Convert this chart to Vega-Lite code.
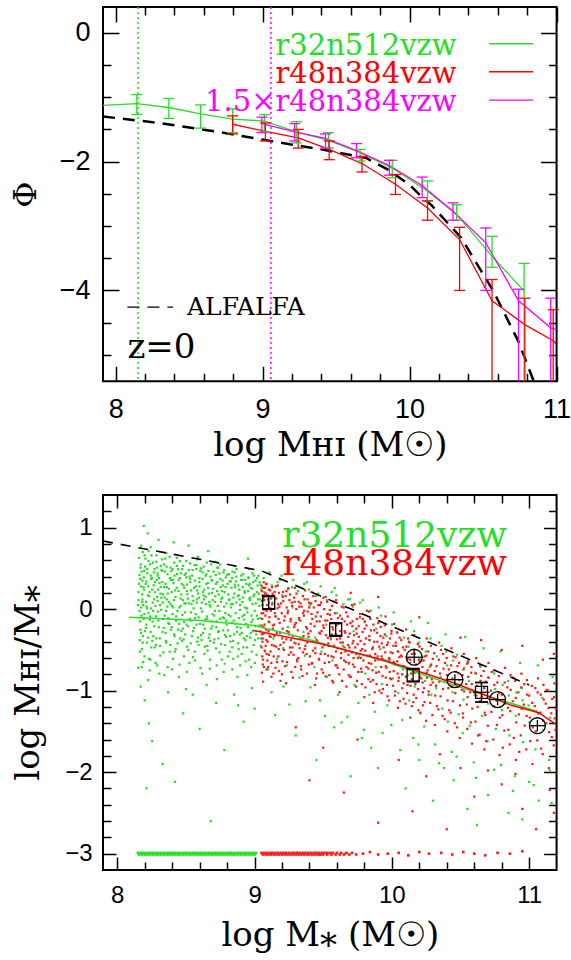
{
"$schema": "https://vega.github.io/schema/vega-lite/v6.json",
"padding": {"left": 8, "top": 5, "right": 0, "bottom": 0},
"background": "white",
"spacing": 29,
"config": {
 "view": {"stroke": "black", "strokeWidth": 2},
 "axis": {"domain": false, "grid": false, "tickColor": "black", "tickWidth": 1.5, "labelColor": "black", "labelFont": "Liberation Sans", "labelOverlap": false, "labelBound": false, "labelFlush": false, "format": "d", "titleColor": "black", "titleFont": "DejaVu Serif", "titleFontWeight": "normal"}
},
"datasets": {
 "top": [
  {"s":"g","x":7.914,"y":-1.128},
  {"s":"g","x":8.144,"y":-1.10,"lo":-1.27,"hi":-0.96},
  {"s":"g","x":8.362,"y":-1.16,"lo":-1.33,"hi":-1.02},
  {"s":"g","x":8.578,"y":-1.26,"lo":-1.48,"hi":-1.12},
  {"s":"g","x":8.796,"y":-1.34,"lo":-1.55,"hi":-1.18},
  {"s":"g","x":9.012,"y":-1.37,"lo":-1.54,"hi":-1.27},
  {"s":"g","x":9.230,"y":-1.54,"lo":-1.71,"hi":-1.38},
  {"s":"g","x":9.448,"y":-1.67,"lo":-1.79,"hi":-1.55},
  {"s":"g","x":9.663,"y":-1.86,"lo":-1.99,"hi":-1.81},
  {"s":"g","x":9.882,"y":-2.10,"lo":-2.25,"hi":-1.98},
  {"s":"g","x":10.122,"y":-2.46,"lo":-2.61,"hi":-2.30},
  {"s":"g","x":10.320,"y":-2.82,"lo":-2.91,"hi":-2.67},
  {"s":"g","x":10.561,"y":-3.47,"lo":-3.64,"hi":-3.16},
  {"s":"g","x":10.779,"y":-4.01,"lo":-6,"hi":-3.58},
  {"s":"r","x":8.796,"y":-1.42,"lo":-1.57,"hi":-1.29},
  {"s":"r","x":9.019,"y":-1.53,"lo":-1.68,"hi":-1.40},
  {"s":"r","x":9.242,"y":-1.63,"lo":-1.79,"hi":-1.50},
  {"s":"r","x":9.453,"y":-1.81,"lo":-1.97,"hi":-1.68},
  {"s":"r","x":9.676,"y":-2.03,"lo":-2.16,"hi":-1.92},
  {"s":"r","x":9.904,"y":-2.35,"lo":-2.51,"hi":-2.20},
  {"s":"r","x":10.122,"y":-2.72,"lo":-2.91,"hi":-2.61},
  {"s":"r","x":10.340,"y":-3.21,"lo":-4.00,"hi":-3.02},
  {"s":"r","x":10.561,"y":-4.16,"lo":-6,"hi":-3.83},
  {"s":"r","x":10.784,"y":-4.53,"lo":-6,"hi":-4.12},
  {"s":"r","x":10.977,"y":-4.78,"lo":-6,"hi":-4.30},
  {"s":"r","x":11.0,"y":-4.84},
  {"s":"m","x":8.995,"y":-1.41,"lo":-1.55,"hi":-1.31},
  {"s":"m","x":9.218,"y":-1.54,"lo":-1.68,"hi":-1.41},
  {"s":"m","x":9.428,"y":-1.64,"lo":-1.79,"hi":-1.57},
  {"s":"m","x":9.639,"y":-1.83,"lo":-1.94,"hi":-1.72},
  {"s":"m","x":9.862,"y":-2.06,"lo":-2.21,"hi":-1.98},
  {"s":"m","x":10.085,"y":-2.37,"lo":-2.56,"hi":-2.24},
  {"s":"m","x":10.295,"y":-2.77,"lo":-2.91,"hi":-2.64},
  {"s":"m","x":10.518,"y":-3.26,"lo":-4.00,"hi":-3.03},
  {"s":"m","x":10.741,"y":-4.16,"lo":-6,"hi":-3.98},
  {"s":"m","x":10.960,"y":-4.58,"lo":-6,"hi":-4.12},
  {"s":"m","x":11.0,"y":-4.61}
 ],
 "alfa": [
  {"x":7.914,"y":-1.30},{"x":8.3,"y":-1.40},{"x":8.7,"y":-1.54},{"x":9.056,"y":-1.68},{"x":9.4,"y":-1.81},{"x":9.7,"y":-1.94},{"x":9.85,"y":-2.12},{"x":10.0,"y":-2.36},{"x":10.07,"y":-2.52},{"x":10.15,"y":-2.68},{"x":10.35,"y":-3.18},{"x":10.57,"y":-4.01},{"x":10.74,"y":-4.79},{"x":10.86,"y":-5.5}
 ],
 "vl": [{"s":"g","x":8.152},{"s":"m","x":9.056}],
 "tleg": [
  {"s":"g","x":10.54,"x2":10.84,"y":-0.17,"tx":10.32,"ty":-0.346,"t":"r32n512vzw"},
  {"s":"r","x":10.54,"x2":10.84,"y":-0.605,"tx":10.32,"ty":-0.776,"t":"r48n384vzw"},
  {"s":"m","x":10.54,"x2":10.84,"y":-1.045,"tx":10.32,"ty":-1.217,"t":"1.5×r48n384vzw"}
 ],
 "aleg": [{"x":8.08,"x2":8.39,"y":-4.26,"tx":8.486,"t":"ALFALFA"}],
 "zlab": [{"x":8.08,"y":-5.05,"t":"z=0"}],
 "gs": [
  {"x":8.161,"y":0.42},{"x":8.155,"y":0.11},{"x":8.168,"y":-0.25},{"x":8.158,"y":0.63},{"x":8.165,"y":-0.52},
  {"x":8.172,"y":0.28},{"x":8.176,"y":-0.08},{"x":8.169,"y":0.51},{"x":8.178,"y":-0.71},{"x":8.174,"y":0.02},
  {"x":8.183,"y":0.35},{"x":8.187,"y":-0.33},{"x":8.181,"y":0.18},{"x":8.185,"y":0.7},
  {"x":8.192,"y":-0.12},{"x":8.196,"y":0.47},{"x":8.189,"y":0.05},{"x":8.198,"y":-0.58},{"x":8.194,"y":0.24},
  {"x":8.207,"y":0.31},{"x":8.213,"y":-0.19},{"x":8.205,"y":0.62},{"x":8.216,"y":-0.41},{"x":8.209,"y":0.09},
  {"x":8.222,"y":0.17},{"x":8.227,"y":-0.05},{"x":8.219,"y":0.44},{"x":8.225,"y":-0.87},{"x":8.221,"y":0.93},
  {"x":8.238,"y":0.55},{"x":8.243,"y":-0.28},{"x":8.235,"y":0.21},{"x":8.246,"y":0.01},{"x":8.241,"y":-0.62},
  {"x":8.252,"y":0.38},{"x":8.257,"y":-0.15},{"x":8.249,"y":0.66},{"x":8.255,"y":-0.39},
  {"x":8.268,"y":0.12},{"x":8.273,"y":-0.47},{"x":8.265,"y":0.29},{"x":8.271,"y":0.49},
  {"x":8.282,"y":-0.09},{"x":8.287,"y":0.36},{"x":8.279,"y":-0.66},{"x":8.285,"y":0.58},{"x":8.29,"y":0.15},
  {"x":8.298,"y":0.24},{"x":8.303,"y":-0.22},{"x":8.295,"y":0.41},{"x":8.306,"y":-0.79},
  {"x":8.312,"y":0.05},{"x":8.317,"y":0.53},{"x":8.309,"y":-0.36},{"x":8.315,"y":0.19},
  {"x":8.328,"y":0.33},{"x":8.333,"y":-0.12},{"x":8.325,"y":0.61},{"x":8.336,"y":-0.53},{"x":8.331,"y":0.08},
  {"x":8.347,"y":0.46},{"x":8.352,"y":-0.29},{"x":8.344,"y":0.14},{"x":8.355,"y":-0.02},
  {"x":8.362,"y":0.27},{"x":8.367,"y":-0.71},{"x":8.359,"y":0.52},{"x":8.365,"y":0.03},
  {"x":8.378,"y":-0.18},{"x":8.383,"y":0.38},{"x":8.375,"y":0.09},{"x":8.386,"y":-0.44},{"x":8.381,"y":0.64},
  {"x":8.397,"y":0.21},{"x":8.402,"y":-0.06},{"x":8.394,"y":0.47},{"x":8.405,"y":-0.61},
  {"x":8.412,"y":0.11},{"x":8.417,"y":-0.33},{"x":8.409,"y":0.32},{"x":8.415,"y":0.57},
  {"x":8.428,"y":-0.14},{"x":8.433,"y":0.26},{"x":8.425,"y":-0.49},{"x":8.436,"y":0.43},
  {"x":8.447,"y":0.36},{"x":8.452,"y":0.02},{"x":8.444,"y":-0.25},{"x":8.455,"y":0.59},{"x":8.449,"y":-0.83},
  {"x":8.466,"y":0.18},{"x":8.471,"y":-0.39},{"x":8.463,"y":0.44},{"x":8.474,"y":-0.07},
  {"x":8.482,"y":0.29},{"x":8.487,"y":-0.16},{"x":8.479,"y":0.53},{"x":8.485,"y":-0.58},
  {"x":8.498,"y":0.07},{"x":8.503,"y":0.39},{"x":8.495,"y":-0.31},{"x":8.506,"y":0.22},
  {"x":8.517,"y":-0.21},{"x":8.522,"y":0.48},{"x":8.514,"y":0.13},{"x":8.525,"y":-0.66},
  {"x":8.532,"y":0.33},{"x":8.537,"y":-0.04},{"x":8.529,"y":0.56},{"x":8.535,"y":-0.42},
  {"x":8.548,"y":0.16},{"x":8.553,"y":-0.27},{"x":8.545,"y":0.41},{"x":8.556,"y":0.01},
  {"x":8.567,"y":-0.11},{"x":8.572,"y":0.28},{"x":8.564,"y":-0.52},{"x":8.575,"y":0.49},
  {"x":8.582,"y":0.23},{"x":8.587,"y":-0.35},{"x":8.579,"y":0.08},{"x":8.585,"y":0.61},
  {"x":8.598,"y":0.38},{"x":8.603,"y":-0.18},{"x":8.595,"y":0.14},{"x":8.606,"y":-0.72},
  {"x":8.617,"y":-0.03},{"x":8.622,"y":0.45},{"x":8.614,"y":-0.38},{"x":8.625,"y":0.21},
  {"x":8.632,"y":0.12},{"x":8.637,"y":-0.24},{"x":8.629,"y":0.52},{"x":8.635,"y":-0.55},
  {"x":8.648,"y":0.31},{"x":8.653,"y":-0.09},{"x":8.645,"y":0.06},{"x":8.656,"y":-0.45},
  {"x":8.667,"y":0.19},{"x":8.672,"y":-0.31},{"x":8.664,"y":0.47},{"x":8.675,"y":-0.62},
  {"x":8.682,"y":-0.15},{"x":8.687,"y":0.36},{"x":8.679,"y":0.03},{"x":8.685,"y":0.55},
  {"x":8.698,"y":0.25},{"x":8.703,"y":-0.41},{"x":8.695,"y":0.11},{"x":8.706,"y":-0.08},
  {"x":8.717,"y":0.42},{"x":8.722,"y":-0.22},{"x":8.714,"y":0.16},{"x":8.725,"y":-0.69},
  {"x":8.732,"y":0.04},{"x":8.737,"y":-0.36},{"x":8.729,"y":0.33},{"x":8.735,"y":0.51},
  {"x":8.748,"y":-0.12},{"x":8.753,"y":0.27},{"x":8.745,"y":-0.53},{"x":8.756,"y":0.09},
  {"x":8.767,"y":0.35},{"x":8.772,"y":-0.26},{"x":8.764,"y":0.14},{"x":8.775,"y":-0.77},
  {"x":8.782,"y":0.21},{"x":8.787,"y":-0.05},{"x":8.779,"y":0.48},{"x":8.785,"y":-0.44},
  {"x":8.798,"y":-0.19},{"x":8.803,"y":0.31},{"x":8.795,"y":0.07},{"x":8.806,"y":-0.58},
  {"x":8.817,"y":0.12},{"x":8.822,"y":-0.33},{"x":8.814,"y":0.43},{"x":8.825,"y":-0.09},
  {"x":8.832,"y":0.26},{"x":8.837,"y":-0.47},{"x":8.829,"y":0.02},{"x":8.835,"y":0.38},
  {"x":8.848,"y":-0.14},{"x":8.853,"y":0.19},{"x":8.845,"y":-0.61},{"x":8.856,"y":0.45},
  {"x":8.867,"y":0.08},{"x":8.872,"y":-0.28},{"x":8.864,"y":0.34},{"x":8.875,"y":-0.83},
  {"x":8.882,"y":0.29},{"x":8.887,"y":-0.11},{"x":8.879,"y":-0.42},{"x":8.885,"y":0.17},
  {"x":8.898,"y":-0.23},{"x":8.903,"y":0.41},{"x":8.895,"y":0.05},{"x":8.906,"y":-0.55},
  {"x":8.917,"y":0.14},{"x":8.922,"y":-0.36},{"x":8.914,"y":0.27},{"x":8.925,"y":-0.07},
  {"x":8.932,"y":0.36},{"x":8.937,"y":-0.18},{"x":8.929,"y":0.02},{"x":8.935,"y":-0.64},
  {"x":8.948,"y":-0.04},{"x":8.953,"y":0.22},{"x":8.945,"y":-0.47},{"x":8.956,"y":0.39},
  {"x":8.967,"y":0.11},{"x":8.972,"y":-0.29},{"x":8.964,"y":0.31},{"x":8.975,"y":-0.71},
  {"x":8.982,"y":0.25},{"x":8.987,"y":-0.13},{"x":8.979,"y":-0.52},{"x":8.985,"y":0.06},
  {"x":8.998,"y":0.18},{"x":9.003,"y":-0.38},{"x":8.995,"y":0.41},{"x":9.006,"y":-0.21},
  {"x":9.017,"y":-0.08},{"x":9.022,"y":0.29},{"x":9.014,"y":-0.56},{"x":9.025,"y":0.12},
  {"x":9.037,"y":0.33},{"x":9.042,"y":-0.27},{"x":9.034,"y":0.04},{"x":9.045,"y":-0.45},
  {"x":8.193,"y":1.02},{"x":8.301,"y":0.85},{"x":8.519,"y":0.78},{"x":8.411,"y":0.82},{"x":8.951,"y":0.62},{"x":8.243,"y":0.76},{"x":8.662,"y":0.71},
  {"x":8.2,"y":-1.12},{"x":8.23,"y":-1.4},{"x":8.212,"y":-2.2},{"x":8.253,"y":-1.62},{"x":8.33,"y":-1.9},{"x":8.42,"y":-2.12},{"x":8.48,"y":-1.28},{"x":8.55,"y":-1.05},{"x":8.6,"y":-1.47},{"x":8.68,"y":-2.6},{"x":8.72,"y":-1.15},{"x":8.78,"y":-1.73},{"x":8.85,"y":-1.05},{"x":8.92,"y":-1.38},{"x":8.98,"y":-0.97},{"x":9.0,"y":-1.22},{"x":8.17,"y":-0.95},{"x":8.37,"y":-1.02},{"x":8.5,"y":-0.98},{"x":8.65,"y":-0.93},{"x":8.88,"y":-1.18},
  {"x":8.151,"y":0.05},{"x":8.163,"y":-0.38},{"x":8.157,"y":0.31},{"x":8.171,"y":0.55},{"x":8.166,"y":-0.15},{"x":8.184,"y":0.12},{"x":8.179,"y":-0.49},{"x":8.193,"y":0.39},{"x":8.201,"y":-0.27},{"x":8.199,"y":0.66},
  {"x":8.214,"y":0.03},{"x":8.226,"y":0.28},{"x":8.231,"y":-0.61},{"x":8.218,"y":0.49},{"x":8.239,"y":-0.09},{"x":8.247,"y":0.37},{"x":8.258,"y":0.08},{"x":8.262,"y":-0.33},{"x":8.259,"y":0.57},{"x":8.276,"y":0.21},
  {"x":8.281,"y":-0.44},{"x":8.293,"y":0.44},{"x":8.296,"y":-0.03},{"x":8.307,"y":0.32},{"x":8.313,"y":-0.57},{"x":8.321,"y":0.14},{"x":8.322,"y":0.48},{"x":8.338,"y":-0.23},{"x":8.341,"y":0.27},{"x":8.349,"y":0.62},
  {"x":8.356,"y":-0.41},{"x":8.368,"y":0.19},{"x":8.371,"y":-0.11},{"x":8.388,"y":0.51},{"x":8.391,"y":-0.25},{"x":8.399,"y":0.04},{"x":8.407,"y":0.36},{"x":8.419,"y":-0.52},{"x":8.421,"y":0.23},{"x":8.438,"y":-0.02},
  {"x":8.442,"y":0.49},{"x":8.457,"y":-0.36},{"x":8.461,"y":0.13},{"x":8.469,"y":0.31},{"x":8.477,"y":-0.24},{"x":8.489,"y":0.07},{"x":8.491,"y":0.42},{"x":8.508,"y":-0.46},{"x":8.511,"y":0.18},{"x":8.527,"y":-0.12},
  {"x":8.531,"y":0.37},{"x":8.541,"y":0.06},{"x":8.551,"y":-0.59},{"x":8.559,"y":0.26},{"x":8.562,"y":0.54},{"x":8.577,"y":-0.19},{"x":8.581,"y":0.12},{"x":8.592,"y":-0.44},{"x":8.597,"y":0.33},{"x":8.609,"y":0.01},
  {"x":8.611,"y":0.5},{"x":8.624,"y":-0.29},{"x":8.628,"y":0.17},{"x":8.641,"y":-0.13},{"x":8.643,"y":0.41},{"x":8.658,"y":-0.51},{"x":8.661,"y":0.26},{"x":8.671,"y":0.09},{"x":8.677,"y":-0.39},{"x":8.691,"y":0.35},
  {"x":8.693,"y":-0.21},{"x":8.709,"y":0.58},{"x":8.711,"y":-0.02},{"x":8.719,"y":-0.48},{"x":8.727,"y":0.22},{"x":8.741,"y":-0.27},{"x":8.743,"y":0.44},{"x":8.759,"y":0.13},{"x":8.761,"y":-0.62},{"x":8.769,"y":0.29},
  {"x":8.777,"y":-0.11},{"x":8.791,"y":0.39},{"x":8.793,"y":-0.34},{"x":8.809,"y":0.18},{"x":8.811,"y":-0.07},{"x":8.819,"y":-0.52},{"x":8.827,"y":0.34},{"x":8.841,"y":0.06},{"x":8.843,"y":-0.39},{"x":8.859,"y":0.27},
  {"x":8.861,"y":-0.18},{"x":8.869,"y":0.49},{"x":8.877,"y":-0.58},{"x":8.891,"y":0.12},{"x":8.893,"y":-0.31},{"x":8.909,"y":0.36},{"x":8.911,"y":-0.09},{"x":8.919,"y":-0.47},{"x":8.927,"y":0.22},{"x":8.941,"y":0.01},
  {"x":8.943,"y":-0.33},{"x":8.959,"y":0.29},{"x":8.961,"y":-0.62},{"x":8.969,"y":0.14},{"x":8.977,"y":-0.16},{"x":8.991,"y":0.33},{"x":8.993,"y":-0.44},{"x":9.009,"y":0.07},{"x":9.011,"y":-0.27},{"x":9.019,"y":0.38},
  {"x":9.027,"y":-0.36},{"x":9.031,"y":0.19},{"x":9.041,"y":-0.11},{"x":9.047,"y":0.24},{"x":8.153,"y":-0.72},{"x":8.188,"y":-0.65},{"x":8.236,"y":-0.75},{"x":8.291,"y":-0.69},{"x":8.343,"y":-0.81},{"x":8.398,"y":-0.74},
  {"x":8.453,"y":-0.68},{"x":8.507,"y":-0.77},{"x":8.566,"y":-0.63},{"x":8.618,"y":-0.79},{"x":8.674,"y":-0.73},{"x":8.726,"y":-0.86},{"x":8.783,"y":-0.67},{"x":8.838,"y":-0.74},{"x":8.894,"y":-0.69},{"x":8.947,"y":-0.81},
  {"x":9.002,"y":-0.66},{"x":8.174,"y":0.78},{"x":8.229,"y":0.71},{"x":8.286,"y":0.66},{"x":8.357,"y":0.69},{"x":8.433,"y":0.63},{"x":8.502,"y":0.59},{"x":8.587,"y":0.64},{"x":8.652,"y":0.57},{"x":8.747,"y":0.55},{"x":8.852,"y":0.53},{"x":8.958,"y":0.49},
  {"x":9.071,"y":0.21},{"x":9.078,"y":-0.52},{"x":9.066,"y":0.38},
  {"x":9.102,"y":-0.15},{"x":9.108,"y":0.45},{"x":9.097,"y":-0.74},
  {"x":9.131,"y":0.08},{"x":9.137,"y":-0.36},{"x":9.126,"y":0.29},
  {"x":9.162,"y":-0.61},{"x":9.168,"y":0.33},{"x":9.157,"y":-0.09},
  {"x":9.202,"y":0.17},{"x":9.208,"y":-0.48},{"x":9.197,"y":0.41},{"x":9.211,"y":-0.95},
  {"x":9.242,"y":-0.22},{"x":9.247,"y":0.26},{"x":9.236,"y":-0.69},
  {"x":9.282,"y":0.36},{"x":9.287,"y":-0.41},{"x":9.276,"y":0.02},
  {"x":9.322,"y":-0.13},{"x":9.327,"y":-0.84},{"x":9.316,"y":0.22},
  {"x":9.362,"y":0.31},{"x":9.367,"y":-0.57},{"x":9.356,"y":-0.28},
  {"x":9.402,"y":0.05},{"x":9.407,"y":-0.96},{"x":9.396,"y":0.24},
  {"x":9.442,"y":-0.35},{"x":9.447,"y":0.16},{"x":9.436,"y":-0.71},
  {"x":9.482,"y":0.28},{"x":9.487,"y":-0.52},{"x":9.476,"y":-1.12},
  {"x":9.522,"y":-0.19},{"x":9.527,"y":0.11},{"x":9.516,"y":-0.82},
  {"x":9.562,"y":0.21},{"x":9.567,"y":-0.63},{"x":9.556,"y":-0.34},
  {"x":9.602,"y":-0.05},{"x":9.607,"y":-1.05},{"x":9.596,"y":0.17},
  {"x":9.642,"y":-0.45},{"x":9.647,"y":0.06},{"x":9.636,"y":-0.88},
  {"x":9.682,"y":0.12},{"x":9.687,"y":-0.67},{"x":9.676,"y":-1.32},
  {"x":9.722,"y":-0.27},{"x":9.727,"y":-0.93},{"x":9.716,"y":0.03},
  {"x":9.762,"y":-0.58},{"x":9.767,"y":0.08},{"x":9.756,"y":-1.15},
  {"x":9.802,"y":-0.16},{"x":9.807,"y":-0.79},{"x":9.796,"y":-1.48},
  {"x":9.842,"y":-0.38},{"x":9.847,"y":-0.02},{"x":9.836,"y":-1.05},
  {"x":9.882,"y":-0.71},{"x":9.887,"y":-0.24},{"x":9.876,"y":-1.26},
  {"x":9.922,"y":-0.08},{"x":9.927,"y":-0.92},{"x":9.916,"y":-0.49},
  {"x":9.962,"y":-0.33},{"x":9.967,"y":-1.18},{"x":9.956,"y":-0.63},
  {"x":10.002,"y":-0.19},{"x":10.007,"y":-0.85},{"x":9.996,"y":-1.42},
  {"x":10.042,"y":-0.52},{"x":10.047,"y":-1.03},{"x":10.036,"y":-0.28},
  {"x":10.082,"y":-0.74},{"x":10.087,"y":-0.35},{"x":10.076,"y":-1.36},
  {"x":10.122,"y":-0.46},{"x":10.127,"y":-1.12},{"x":10.116,"y":-0.81},
  {"x":10.162,"y":-0.27},{"x":10.167,"y":-0.95},{"x":10.156,"y":-1.58},
  {"x":10.202,"y":-0.62},{"x":10.207,"y":-1.28},{"x":10.196,"y":-0.41},
  {"x":10.242,"y":-0.88},{"x":10.247,"y":-0.52},{"x":10.236,"y":-1.44},
  {"x":10.282,"y":-0.36},{"x":10.287,"y":-1.05},{"x":10.276,"y":-0.71},
  {"x":10.322,"y":-0.97},{"x":10.327,"y":-0.58},{"x":10.316,"y":-1.66},
  {"x":10.362,"y":-0.45},{"x":10.367,"y":-1.22},{"x":10.356,"y":-0.83},
  {"x":10.402,"y":-0.69},{"x":10.407,"y":-1.38},{"x":10.396,"y":-0.52},
  {"x":10.442,"y":-1.02},{"x":10.447,"y":-0.63},{"x":10.436,"y":-1.75},
  {"x":10.482,"y":-0.79},{"x":10.487,"y":-1.29},{"x":10.476,"y":-0.56},
  {"x":10.522,"y":-1.11},{"x":10.527,"y":-0.72},{"x":10.516,"y":-1.52},
  {"x":10.562,"y":-0.88},{"x":10.567,"y":-1.43},{"x":10.556,"y":-0.66},
  {"x":10.602,"y":-1.05},{"x":10.607,"y":-0.78},{"x":10.596,"y":-1.88},
  {"x":10.652,"y":-0.92},{"x":10.657,"y":-1.31},{"x":10.646,"y":-0.71},
  {"x":10.702,"y":-1.16},{"x":10.707,"y":-0.84},{"x":10.696,"y":-1.62},
  {"x":10.752,"y":-0.98},{"x":10.757,"y":-1.47},{"x":10.746,"y":-0.79},
  {"x":10.802,"y":-1.24},{"x":10.807,"y":-0.93},{"x":10.796,"y":-1.91},
  {"x":10.852,"y":-1.06},{"x":10.857,"y":-1.55},{"x":10.846,"y":-0.88},
  {"x":10.902,"y":-1.31},{"x":10.907,"y":-1.02},{"x":10.896,"y":-2.05},
  {"x":10.952,"y":-1.12},{"x":10.957,"y":-1.63},{"x":10.946,"y":-0.97},
  {"x":11.002,"y":-1.39},{"x":10.996,"y":-1.18},
  {"x":11.052,"y":-1.25},{"x":11.046,"y":-1.72},
  {"x":11.102,"y":-1.48},{"x":11.096,"y":-1.09},
  {"x":11.152,"y":-1.33},{"x":11.146,"y":-1.85},
  {"x":9.093,"y":0.31},{"x":9.187,"y":0.36},{"x":9.274,"y":0.27},{"x":9.381,"y":0.33},{"x":9.463,"y":0.19},{"x":9.584,"y":0.26},{"x":9.693,"y":0.12},{"x":9.788,"y":0.11},{"x":9.904,"y":0.02},{"x":10.013,"y":-0.04},{"x":10.138,"y":-0.15},{"x":10.262,"y":-0.17},{"x":10.391,"y":-0.31},{"x":10.534,"y":-0.34},{"x":10.668,"y":-0.48},{"x":10.793,"y":-0.52},{"x":10.934,"y":-0.66},{"x":11.063,"y":-0.69},{"x":11.171,"y":-0.83},
  {"x":9.124,"y":-1.02},{"x":9.253,"y":-1.17},{"x":9.372,"y":-1.13},{"x":9.514,"y":-1.31},{"x":9.633,"y":-1.39},{"x":9.781,"y":-1.58},{"x":9.932,"y":-1.52},{"x":10.061,"y":-1.73},{"x":10.193,"y":-1.66},{"x":10.344,"y":-1.89},{"x":10.472,"y":-1.81},{"x":10.613,"y":-2.07},{"x":10.744,"y":-1.97},{"x":10.882,"y":-2.23},{"x":11.033,"y":-2.16},{"x":11.163,"y":-2.38},
  {"x":9.3,"y":-1.55},{"x":9.45,"y":-1.85},{"x":9.7,"y":-2.05},{"x":9.9,"y":-1.95},{"x":10.1,"y":-2.2},{"x":10.3,"y":-2.35},{"x":10.45,"y":-2.1},{"x":10.55,"y":-2.45},{"x":10.7,"y":-2.28},{"x":10.85,"y":-2.5},{"x":11.0,"y":-2.12},{"x":11.15,"y":-1.98},{"x":10.2,"y":-1.85},{"x":10.62,"y":-2.65},{"x":9.58,"y":-1.45},{"x":11.07,"y":-2.35},{"x":10.95,"y":-2.58},{"x":9.15,"y":-1.3},{"x":9.85,"y":-1.7},{"x":10.38,"y":-1.95},
  {"x":8.154,"y":0.21},{"x":8.162,"y":-0.02},{"x":8.167,"y":0.37},{"x":8.173,"y":-0.29},{"x":8.177,"y":0.46},{"x":8.182,"y":0.09},{"x":8.186,"y":-0.41},{"x":8.191,"y":0.27},{"x":8.197,"y":-0.06},{"x":8.203,"y":0.52},
  {"x":8.208,"y":-0.23},{"x":8.212,"y":0.34},{"x":8.217,"y":0.01},{"x":8.223,"y":-0.35},{"x":8.228,"y":0.59},{"x":8.233,"y":0.16},{"x":8.237,"y":-0.13},{"x":8.244,"y":0.41},{"x":8.248,"y":-0.47},{"x":8.254,"y":0.24},
  {"x":8.261,"y":-0.02},{"x":8.266,"y":0.45},{"x":8.269,"y":-0.21},{"x":8.274,"y":0.33},{"x":8.278,"y":0.04},{"x":8.284,"y":-0.36},{"x":8.289,"y":0.51},{"x":8.294,"y":0.1},{"x":8.299,"y":-0.14},{"x":8.304,"y":0.38},
  {"x":8.311,"y":-0.45},{"x":8.316,"y":0.27},{"x":8.319,"y":-0.01},{"x":8.326,"y":0.47},{"x":8.329,"y":-0.28},{"x":8.334,"y":0.18},{"x":8.339,"y":0.55},{"x":8.345,"y":-0.08},{"x":8.351,"y":0.31},{"x":8.354,"y":-0.39},
  {"x":8.361,"y":0.12},{"x":8.366,"y":0.43},{"x":8.372,"y":-0.17},{"x":8.376,"y":0.25},{"x":8.382,"y":-0.52},{"x":8.387,"y":0.06},{"x":8.392,"y":0.36},{"x":8.396,"y":-0.22},{"x":8.403,"y":0.49},{"x":8.408,"y":0.02},
  {"x":8.414,"y":-0.31},{"x":8.418,"y":0.41},{"x":8.424,"y":0.15},{"x":8.429,"y":-0.09},{"x":8.434,"y":0.53},{"x":8.439,"y":-0.42},{"x":8.446,"y":0.22},{"x":8.451,"y":-0.18},{"x":8.456,"y":0.38},{"x":8.462,"y":0.04},
  {"x":8.467,"y":-0.27},{"x":8.472,"y":0.49},{"x":8.478,"y":0.11},{"x":8.483,"y":-0.37},{"x":8.488,"y":0.26},{"x":8.494,"y":-0.04},{"x":8.499,"y":0.44},{"x":8.505,"y":-0.19},{"x":8.509,"y":0.3},{"x":8.516,"y":-0.5},
  {"x":8.521,"y":0.07},{"x":8.526,"y":0.4},{"x":8.533,"y":-0.14},{"x":8.538,"y":0.23},{"x":8.543,"y":-0.33},{"x":8.549,"y":0.48},{"x":8.554,"y":0.1},{"x":8.558,"y":-0.23},{"x":8.565,"y":0.35},{"x":8.571,"y":-0.06},
  {"x":8.576,"y":0.54},{"x":8.583,"y":-0.4},{"x":8.588,"y":0.19},{"x":8.593,"y":-0.1},{"x":8.599,"y":0.28},{"x":8.604,"y":0.47},{"x":8.61,"y":-0.32},{"x":8.616,"y":0.08},{"x":8.621,"y":0.37},{"x":8.627,"y":-0.19},
  {"x":8.633,"y":0.24},{"x":8.638,"y":-0.46},{"x":8.644,"y":0.15},{"x":8.649,"y":0.43},{"x":8.655,"y":-0.12},{"x":8.66,"y":0.32},{"x":8.666,"y":-0.35},{"x":8.673,"y":0.05},{"x":8.678,"y":0.4},{"x":8.684,"y":-0.24},
  {"x":8.689,"y":0.2},{"x":8.694,"y":-0.06},{"x":8.701,"y":0.46},{"x":8.707,"y":-0.37},{"x":8.712,"y":0.09},{"x":8.718,"y":0.31},{"x":8.723,"y":-0.15},{"x":8.728,"y":0.51},{"x":8.734,"y":-0.28},{"x":8.739,"y":0.18},
  {"x":8.744,"y":-0.02},{"x":8.751,"y":0.37},{"x":8.757,"y":-0.43},{"x":8.762,"y":0.22},{"x":8.768,"y":-0.1},{"x":8.773,"y":0.45},{"x":8.778,"y":0.03},{"x":8.784,"y":-0.32},{"x":8.789,"y":0.27},{"x":8.794,"y":-0.14},
  {"x":8.801,"y":0.42},{"x":8.807,"y":-0.26},{"x":8.813,"y":0.11},{"x":8.818,"y":0.34},{"x":8.824,"y":-0.4},{"x":8.828,"y":0.06},{"x":8.834,"y":-0.17},{"x":8.839,"y":0.46},{"x":8.846,"y":0.14},{"x":8.851,"y":-0.31},
  {"x":8.857,"y":0.3},{"x":8.862,"y":-0.05},{"x":8.868,"y":0.4},{"x":8.873,"y":-0.22},{"x":8.878,"y":0.16},{"x":8.884,"y":-0.49},{"x":8.889,"y":0.24},{"x":8.894,"y":-0.01},{"x":8.901,"y":0.36},{"x":8.907,"y":-0.29},
  {"x":8.912,"y":0.09},{"x":8.918,"y":0.43},{"x":8.923,"y":-0.13},{"x":8.928,"y":0.2},{"x":8.934,"y":-0.38},{"x":8.94,"y":0.31},{"x":8.946,"y":0.01},{"x":8.952,"y":-0.22},{"x":8.957,"y":0.38},{"x":8.962,"y":0.13},
  {"x":8.968,"y":-0.35},{"x":8.973,"y":0.26},{"x":8.978,"y":-0.08},{"x":8.984,"y":0.44},{"x":8.989,"y":-0.27},{"x":8.994,"y":0.16},{"x":9.001,"y":-0.02},{"x":9.007,"y":0.35},{"x":9.013,"y":-0.31},{"x":9.018,"y":0.21},
  {"x":9.024,"y":-0.12},{"x":9.029,"y":0.41},{"x":9.035,"y":-0.2},{"x":9.039,"y":0.12},{"x":9.044,"y":0.3},{"x":9.048,"y":-0.36}
 ],
 "gb": [
  {"x":8.15,"y":-2.99},{"x":8.17,"y":-2.99},{"x":8.19,"y":-2.99},{"x":8.21,"y":-2.99},{"x":8.23,"y":-2.99},{"x":8.25,"y":-2.99},{"x":8.27,"y":-2.99},{"x":8.29,"y":-2.99},{"x":8.31,"y":-2.99},{"x":8.33,"y":-2.99},{"x":8.35,"y":-2.99},{"x":8.37,"y":-2.99},{"x":8.39,"y":-2.99},{"x":8.41,"y":-2.99},{"x":8.43,"y":-2.99},{"x":8.45,"y":-2.99},{"x":8.47,"y":-2.99},{"x":8.49,"y":-2.99},{"x":8.51,"y":-2.99},{"x":8.53,"y":-2.99},{"x":8.55,"y":-2.99},{"x":8.57,"y":-2.99},{"x":8.59,"y":-2.99},{"x":8.61,"y":-2.99},{"x":8.63,"y":-2.99},{"x":8.65,"y":-2.99},{"x":8.67,"y":-2.99},{"x":8.69,"y":-2.99},{"x":8.71,"y":-2.99},{"x":8.73,"y":-2.99},{"x":8.75,"y":-2.99},{"x":8.77,"y":-2.99},{"x":8.79,"y":-2.99},{"x":8.81,"y":-2.99},{"x":8.83,"y":-2.99},{"x":8.85,"y":-2.99},{"x":8.87,"y":-2.99},{"x":8.89,"y":-2.99},{"x":8.91,"y":-2.99},{"x":8.93,"y":-2.99},{"x":8.95,"y":-2.99},{"x":8.97,"y":-2.99},{"x":8.99,"y":-2.99},{"x":9.01,"y":-2.99},
  {"x":8.16,"y":-3.01},{"x":8.18,"y":-3.01},{"x":8.2,"y":-3.01},{"x":8.22,"y":-3.01},{"x":8.24,"y":-3.01},{"x":8.26,"y":-3.01},{"x":8.28,"y":-3.01},{"x":8.3,"y":-3.01},{"x":8.32,"y":-3.01},{"x":8.34,"y":-3.01},{"x":8.36,"y":-3.01},{"x":8.38,"y":-3.01},{"x":8.4,"y":-3.01},{"x":8.42,"y":-3.01},{"x":8.44,"y":-3.01},{"x":8.46,"y":-3.01},{"x":8.48,"y":-3.01},{"x":8.5,"y":-3.01},{"x":8.52,"y":-3.01},{"x":8.54,"y":-3.01},{"x":8.56,"y":-3.01},{"x":8.58,"y":-3.01},{"x":8.6,"y":-3.01},{"x":8.62,"y":-3.01},{"x":8.64,"y":-3.01},{"x":8.66,"y":-3.01},{"x":8.68,"y":-3.01},{"x":8.7,"y":-3.01},{"x":8.72,"y":-3.01},{"x":8.74,"y":-3.01},{"x":8.76,"y":-3.01},{"x":8.78,"y":-3.01},{"x":8.8,"y":-3.01},{"x":8.82,"y":-3.01},{"x":8.84,"y":-3.01},{"x":8.86,"y":-3.01},{"x":8.88,"y":-3.01},{"x":8.9,"y":-3.01},{"x":8.92,"y":-3.01},{"x":8.94,"y":-3.01},{"x":8.96,"y":-3.01},{"x":8.98,"y":-3.01},{"x":9.0,"y":-3.01},
  {"x":9.12,"y":-3.0},{"x":9.31,"y":-2.99},{"x":9.47,"y":-3.01},{"x":9.66,"y":-3.0}
 ],
 "rs": [
  {"x":9.052,"y":0.28},{"x":9.055,"y":-0.12},{"x":9.051,"y":-0.47},{"x":9.057,"y":0.05},{"x":9.053,"y":-0.78},{"x":9.058,"y":0.17},{"x":9.054,"y":-0.31},
  {"x":9.063,"y":-0.05},{"x":9.067,"y":0.33},{"x":9.061,"y":-0.62},{"x":9.065,"y":-0.22},{"x":9.069,"y":0.11},{"x":9.062,"y":-0.89},
  {"x":9.082,"y":0.19},{"x":9.086,"y":-0.38},{"x":9.079,"y":-0.08},{"x":9.084,"y":0.31},{"x":9.088,"y":-0.55},
  {"x":9.101,"y":-0.27},{"x":9.105,"y":0.08},{"x":9.098,"y":-0.71},{"x":9.103,"y":0.24},{"x":9.107,"y":-0.16},
  {"x":9.121,"y":0.13},{"x":9.125,"y":-0.44},{"x":9.118,"y":-0.02},{"x":9.123,"y":-0.83},{"x":9.127,"y":0.27},
  {"x":9.142,"y":-0.19},{"x":9.146,"y":0.21},{"x":9.139,"y":-0.58},{"x":9.144,"y":-0.33},
  {"x":9.172,"y":0.06},{"x":9.176,"y":-0.49},{"x":9.169,"y":0.29},{"x":9.174,"y":-0.12},{"x":9.178,"y":-0.76},
  {"x":9.201,"y":-0.36},{"x":9.205,"y":0.15},{"x":9.198,"y":-0.05},{"x":9.203,"y":-0.64},
  {"x":9.232,"y":0.22},{"x":9.236,"y":-0.27},{"x":9.229,"y":-0.91},{"x":9.234,"y":0.02},
  {"x":9.262,"y":-0.15},{"x":9.266,"y":-0.53},{"x":9.259,"y":0.18},{"x":9.264,"y":-0.38},
  {"x":9.292,"y":0.09},{"x":9.296,"y":-0.71},{"x":9.289,"y":-0.22},{"x":9.294,"y":0.26},
  {"x":9.322,"y":-0.43},{"x":9.326,"y":0.03},{"x":9.319,"y":-0.6},{"x":9.324,"y":-0.11},
  {"x":9.352,"y":0.16},{"x":9.356,"y":-0.33},{"x":9.349,"y":-0.82},{"x":9.354,"y":-0.05},
  {"x":9.382,"y":-0.24},{"x":9.386,"y":0.12},{"x":9.379,"y":-0.55},{"x":9.384,"y":-0.41},
  {"x":9.412,"y":0.07},{"x":9.416,"y":-0.67},{"x":9.409,"y":-0.18},{"x":9.414,"y":0.21},
  {"x":9.442,"y":-0.48},{"x":9.446,"y":-0.09},{"x":9.439,"y":-0.93},{"x":9.444,"y":0.1},
  {"x":9.472,"y":-0.29},{"x":9.476,"y":0.05},{"x":9.469,"y":-0.61},{"x":9.474,"y":-0.15},
  {"x":9.502,"y":0.14},{"x":9.506,"y":-0.44},{"x":9.499,"y":-0.78},{"x":9.504,"y":-0.23},
  {"x":9.532,"y":-0.06},{"x":9.536,"y":-0.57},{"x":9.529,"y":0.09},{"x":9.534,"y":-0.35},
  {"x":9.562,"y":-0.31},{"x":9.566,"y":-0.88},{"x":9.559,"y":-0.12},{"x":9.564,"y":0.04},
  {"x":9.592,"y":-0.52},{"x":9.596,"y":-0.2},{"x":9.589,"y":-0.69},{"x":9.594,"y":0.11},
  {"x":9.622,"y":-0.08},{"x":9.626,"y":-0.41},{"x":9.619,"y":-1.02},{"x":9.624,"y":-0.27},
  {"x":9.652,"y":-0.63},{"x":9.656,"y":-0.15},{"x":9.649,"y":0.02},{"x":9.654,"y":-0.47},
  {"x":9.682,"y":-0.34},{"x":9.686,"y":-0.81},{"x":9.679,"y":-0.09},{"x":9.684,"y":-0.56},
  {"x":9.712,"y":-0.21},{"x":9.716,"y":-0.68},{"x":9.709,"y":0.05},{"x":9.714,"y":-0.42},
  {"x":9.742,"y":-0.55},{"x":9.746,"y":-0.12},{"x":9.739,"y":-0.95},{"x":9.744,"y":-0.3},
  {"x":9.772,"y":-0.39},{"x":9.776,"y":-0.73},{"x":9.769,"y":-0.06},{"x":9.774,"y":-0.6},
  {"x":9.802,"y":-0.24},{"x":9.806,"y":-0.51},{"x":9.799,"y":-1.08},{"x":9.804,"y":-0.15},
  {"x":9.832,"y":-0.66},{"x":9.836,"y":-0.33},{"x":9.829,"y":-0.86},{"x":9.834,"y":-0.03},
  {"x":9.862,"y":-0.47},{"x":9.866,"y":-0.19},{"x":9.859,"y":-0.75},{"x":9.864,"y":-1.15},
  {"x":9.892,"y":-0.29},{"x":9.896,"y":-0.58},{"x":9.889,"y":-0.92},{"x":9.894,"y":-0.11},
  {"x":9.922,"y":-0.71},{"x":9.926,"y":-0.42},{"x":9.919,"y":-0.22},{"x":9.924,"y":-1.03},
  {"x":9.952,"y":-0.53},{"x":9.956,"y":-0.84},{"x":9.949,"y":-0.31},{"x":9.954,"y":-0.09},
  {"x":9.982,"y":-0.62},{"x":9.986,"y":-0.36},{"x":9.979,"y":-1.12},{"x":9.984,"y":-0.77},
  {"x":10.012,"y":-0.45},{"x":10.016,"y":-0.18},{"x":10.009,"y":-0.94},{"x":10.014,"y":-0.65},
  {"x":10.042,"y":-0.79},{"x":10.046,"y":-0.52},{"x":10.039,"y":-0.29},{"x":10.044,"y":-1.21},
  {"x":10.072,"y":-0.58},{"x":10.076,"y":-0.97},{"x":10.069,"y":-0.38},{"x":10.074,"y":-0.71},
  {"x":10.102,"y":-0.83},{"x":10.106,"y":-0.46},{"x":10.099,"y":-1.16},{"x":10.104,"y":-0.25},
  {"x":10.132,"y":-0.66},{"x":10.136,"y":-0.94},{"x":10.129,"y":-0.41},{"x":10.134,"y":-1.33},
  {"x":10.162,"y":-0.51},{"x":10.166,"y":-0.78},{"x":10.159,"y":-1.05},{"x":10.164,"y":-0.32},
  {"x":10.192,"y":-0.88},{"x":10.196,"y":-0.62},{"x":10.189,"y":-0.43},{"x":10.194,"y":-1.24},
  {"x":10.222,"y":-0.71},{"x":10.226,"y":-1.02},{"x":10.219,"y":-0.49},{"x":10.224,"y":-0.9},
  {"x":10.252,"y":-0.57},{"x":10.256,"y":-0.84},{"x":10.249,"y":-1.37},{"x":10.254,"y":-0.36},
  {"x":10.282,"y":-0.93},{"x":10.286,"y":-0.68},{"x":10.279,"y":-1.15},{"x":10.284,"y":-0.45},
  {"x":10.312,"y":-0.76},{"x":10.316,"y":-1.06},{"x":10.309,"y":-0.54},{"x":10.314,"y":-1.42},
  {"x":10.342,"y":-0.62},{"x":10.346,"y":-0.89},{"x":10.339,"y":-1.23},{"x":10.344,"y":-0.41},
  {"x":10.372,"y":-0.98},{"x":10.376,"y":-0.73},{"x":10.369,"y":-1.31},{"x":10.374,"y":-0.55},
  {"x":10.402,"y":-0.81},{"x":10.406,"y":-1.12},{"x":10.399,"y":-0.6},{"x":10.404,"y":-1.5},
  {"x":10.432,"y":-0.69},{"x":10.436,"y":-0.95},{"x":10.429,"y":-1.27},{"x":10.434,"y":-0.48},
  {"x":10.462,"y":-1.03},{"x":10.466,"y":-0.77},{"x":10.459,"y":-1.4},{"x":10.464,"y":-0.59},
  {"x":10.492,"y":-0.87},{"x":10.496,"y":-1.18},{"x":10.489,"y":-0.66},{"x":10.494,"y":-1.58},
  {"x":10.522,"y":-0.74},{"x":10.526,"y":-1.01},{"x":10.519,"y":-1.33},{"x":10.524,"y":-0.55},
  {"x":10.552,"y":-1.08},{"x":10.556,"y":-0.83},{"x":10.549,"y":-1.47},{"x":10.554,"y":-0.64},
  {"x":10.582,"y":-0.92},{"x":10.586,"y":-1.22},{"x":10.579,"y":-0.71},{"x":10.584,"y":-1.65},
  {"x":10.612,"y":-0.79},{"x":10.616,"y":-1.06},{"x":10.609,"y":-1.38},{"x":10.614,"y":-0.6},
  {"x":10.642,"y":-1.13},{"x":10.646,"y":-0.88},{"x":10.639,"y":-1.54},{"x":10.644,"y":-0.69},
  {"x":10.672,"y":-0.97},{"x":10.676,"y":-1.27},{"x":10.669,"y":-0.76},{"x":10.674,"y":-1.72},
  {"x":10.702,"y":-0.84},{"x":10.706,"y":-1.1},{"x":10.699,"y":-1.43},{"x":10.704,"y":-0.66},
  {"x":10.742,"y":-1.19},{"x":10.746,"y":-0.93},{"x":10.739,"y":-1.6},{"x":10.744,"y":-0.75},
  {"x":10.782,"y":-1.03},{"x":10.786,"y":-1.33},{"x":10.779,"y":-0.82},{"x":10.784,"y":-1.79},
  {"x":10.822,"y":-0.9},{"x":10.826,"y":-1.16},{"x":10.819,"y":-1.49},{"x":10.824,"y":-0.72},
  {"x":10.862,"y":-1.25},{"x":10.866,"y":-0.99},{"x":10.859,"y":-1.66},{"x":10.864,"y":-0.81},
  {"x":10.902,"y":-1.09},{"x":10.906,"y":-1.39},{"x":10.899,"y":-0.88},{"x":10.904,"y":-1.85},
  {"x":10.942,"y":-0.96},{"x":10.946,"y":-1.22},{"x":10.939,"y":-1.55},{"x":10.944,"y":-0.79},
  {"x":10.982,"y":-1.31},{"x":10.986,"y":-1.05},{"x":10.979,"y":-1.72},{"x":10.984,"y":-0.87},
  {"x":11.022,"y":-1.15},{"x":11.026,"y":-1.45},{"x":11.019,"y":-0.94},{"x":11.024,"y":-1.9},
  {"x":11.062,"y":-1.02},{"x":11.066,"y":-1.28},{"x":11.059,"y":-1.61},{"x":11.064,"y":-0.85},
  {"x":11.102,"y":-1.37},{"x":11.106,"y":-1.11},{"x":11.099,"y":-1.78},{"x":11.104,"y":-0.93},
  {"x":11.142,"y":-1.21},{"x":11.146,"y":-1.51},{"x":11.139,"y":-1.0},{"x":11.144,"y":-1.95},
  {"x":11.182,"y":-1.08},{"x":11.186,"y":-1.34},{"x":11.179,"y":-1.67},{"x":11.184,"y":-0.91},
  {"x":9.051,"y":-0.05},{"x":9.053,"y":0.22},{"x":9.056,"y":-0.58},{"x":9.059,"y":-0.36},{"x":9.064,"y":0.14},{"x":9.068,"y":-0.71},{"x":9.073,"y":-0.19},{"x":9.077,"y":0.26},{"x":9.081,"y":-0.45},{"x":9.089,"y":-0.02},
  {"x":9.093,"y":-0.63},{"x":9.096,"y":0.17},{"x":9.109,"y":-0.33},{"x":9.113,"y":0.01},{"x":9.116,"y":-0.52},{"x":9.131,"y":0.19},{"x":9.134,"y":-0.24},{"x":9.137,"y":-0.79},{"x":9.151,"y":-0.09},{"x":9.155,"y":0.28},
  {"x":9.158,"y":-0.46},{"x":9.163,"y":-0.65},{"x":9.181,"y":0.03},{"x":9.186,"y":-0.29},{"x":9.189,"y":-0.88},{"x":9.208,"y":0.21},{"x":9.212,"y":-0.41},{"x":9.216,"y":-0.14},{"x":9.222,"y":-0.7},{"x":9.241,"y":-0.05},
  {"x":9.245,"y":0.25},{"x":9.249,"y":-0.56},{"x":9.253,"y":-0.31},{"x":9.271,"y":0.08},{"x":9.275,"y":-0.47},{"x":9.279,"y":-0.84},{"x":9.301,"y":-0.17},{"x":9.305,"y":0.19},{"x":9.309,"y":-0.62},{"x":9.331,"y":-0.35},
  {"x":9.335,"y":0.07},{"x":9.339,"y":-0.74},{"x":9.361,"y":-0.02},{"x":9.365,"y":-0.49},{"x":9.368,"y":0.23},{"x":9.391,"y":-0.3},{"x":9.395,"y":-0.68},{"x":9.398,"y":0.02},{"x":9.421,"y":-0.12},{"x":9.425,"y":-0.51},
  {"x":9.428,"y":0.16},{"x":9.451,"y":-0.38},{"x":9.455,"y":-0.79},{"x":9.458,"y":-0.04},{"x":9.481,"y":-0.55},{"x":9.485,"y":0.08},{"x":9.488,"y":-0.27},{"x":9.511,"y":-0.66},{"x":9.515,"y":-0.14},{"x":9.518,"y":0.15},
  {"x":9.541,"y":-0.45},{"x":9.545,"y":-0.81},{"x":9.548,"y":-0.01},{"x":9.571,"y":-0.25},{"x":9.575,"y":-0.59},{"x":9.578,"y":0.09},{"x":9.601,"y":-0.37},{"x":9.605,"y":-0.72},{"x":9.608,"y":-0.11},{"x":9.631,"y":-0.54},
  {"x":9.635,"y":0.03},{"x":9.638,"y":-0.88},{"x":9.661,"y":-0.29},{"x":9.665,"y":-0.65},{"x":9.668,"y":-0.04},{"x":9.691,"y":-0.47},{"x":9.695,"y":-0.83},{"x":9.698,"y":-0.17},{"x":9.721,"y":-0.6},{"x":9.725,"y":-0.32},
  {"x":9.728,"y":0.06},{"x":9.751,"y":-0.43},{"x":9.755,"y":-0.77},{"x":9.758,"y":-0.21},{"x":9.781,"y":-0.92},{"x":9.785,"y":-0.49},{"x":9.788,"y":-0.12},{"x":9.811,"y":-0.36},{"x":9.815,"y":-0.71},{"x":9.818,"y":-0.02},
  {"x":9.841,"y":-0.57},{"x":9.845,"y":-0.89},{"x":9.848,"y":-0.26},{"x":9.871,"y":-0.4},{"x":9.875,"y":-1.02},{"x":9.878,"y":-0.63},{"x":9.901,"y":-0.17},{"x":9.905,"y":-0.77},{"x":9.908,"y":-0.46},{"x":9.931,"y":-0.61},
  {"x":9.935,"y":-0.98},{"x":9.938,"y":-0.35},{"x":9.961,"y":-0.72},{"x":9.965,"y":-0.44},{"x":9.968,"y":-1.07},{"x":9.991,"y":-0.53},{"x":9.995,"y":-0.86},{"x":9.998,"y":-0.27},{"x":10.021,"y":-0.68},{"x":10.025,"y":-1.01},
  {"x":10.028,"y":-0.41},{"x":10.051,"y":-0.84},{"x":10.055,"y":-0.59},{"x":10.058,"y":-1.13},{"x":10.081,"y":-0.47},{"x":10.085,"y":-0.91},{"x":10.088,"y":-0.7},{"x":10.111,"y":-1.03},{"x":10.115,"y":-0.61},{"x":10.118,"y":-0.36},
  {"x":10.141,"y":-0.79},{"x":10.145,"y":-1.19},{"x":10.148,"y":-0.55},{"x":10.171,"y":-0.92},{"x":10.175,"y":-0.68},{"x":10.178,"y":-1.09},{"x":10.201,"y":-0.46},{"x":10.205,"y":-0.83},{"x":10.208,"y":-1.27},{"x":10.231,"y":-0.63},
  {"x":10.235,"y":-0.97},{"x":10.238,"y":-1.14},{"x":10.261,"y":-0.75},{"x":10.265,"y":-0.52},{"x":10.268,"y":-1.05},{"x":10.291,"y":-0.86},{"x":10.295,"y":-1.3},{"x":10.298,"y":-0.61},{"x":10.321,"y":-0.94},{"x":10.325,"y":-0.7},
  {"x":10.328,"y":-1.19},{"x":10.351,"y":-0.79},{"x":10.355,"y":-1.07},{"x":10.358,"y":-0.5},{"x":10.381,"y":-0.89},{"x":10.385,"y":-1.35},{"x":10.388,"y":-0.66},{"x":10.411,"y":-0.97},{"x":10.415,"y":-0.74},{"x":10.418,"y":-1.24},
  {"x":10.441,"y":-0.85},{"x":10.445,"y":-1.13},{"x":10.448,"y":-0.58},{"x":10.471,"y":-0.93},{"x":10.475,"y":-1.45},{"x":10.478,"y":-0.7},{"x":10.511,"y":-0.99},{"x":10.515,"y":-0.81},{"x":10.518,"y":-1.28},{"x":10.541,"y":-0.92},
  {"x":10.545,"y":-1.17},{"x":10.548,"y":-0.67},{"x":10.571,"y":-1.02},{"x":10.575,"y":-1.39},{"x":10.578,"y":-0.78},{"x":10.621,"y":-0.94},{"x":10.625,"y":-1.2},{"x":10.628,"y":-1.55},{"x":10.651,"y":-0.82},{"x":10.655,"y":-1.07},
  {"x":10.681,"y":-1.3},{"x":10.685,"y":-0.89},{"x":10.688,"y":-1.62},{"x":10.721,"y":-1.0},{"x":10.725,"y":-1.26},{"x":10.728,"y":-0.77},{"x":10.761,"y":-1.12},{"x":10.765,"y":-1.42},{"x":10.768,"y":-0.9},{"x":10.801,"y":-1.05},
  {"x":10.805,"y":-1.3},{"x":10.808,"y":-1.7},{"x":10.841,"y":-0.96},{"x":10.845,"y":-1.21},{"x":10.848,"y":-1.48},{"x":10.881,"y":-1.13},{"x":10.885,"y":-0.84},{"x":10.888,"y":-1.58},{"x":10.921,"y":-1.02},{"x":10.925,"y":-1.29},
  {"x":10.928,"y":-1.75},{"x":10.961,"y":-1.17},{"x":10.965,"y":-0.92},{"x":10.968,"y":-1.43},{"x":11.001,"y":-1.06},{"x":11.005,"y":-1.33},{"x":11.008,"y":-1.62},{"x":11.041,"y":-1.19},{"x":11.045,"y":-0.97},{"x":11.048,"y":-1.5},
  {"x":11.081,"y":-1.27},{"x":11.085,"y":-1.05},{"x":11.088,"y":-1.71},{"x":11.121,"y":-1.16},{"x":11.125,"y":-1.4},{"x":11.128,"y":-0.99},{"x":11.161,"y":-1.28},{"x":11.165,"y":-1.57},{"x":11.168,"y":-1.1},{"x":11.195,"y":-1.22},{"x":11.192,"y":-1.48},
  {"x":9.3,"y":-1.45},{"x":9.5,"y":-1.7},{"x":9.65,"y":-2.25},{"x":9.9,"y":-2.62},{"x":10.05,"y":-1.85},{"x":10.25,"y":-2.05},{"x":10.4,"y":-2.7},{"x":10.5,"y":-1.95},{"x":10.6,"y":-2.3},{"x":10.8,"y":-2.15},{"x":10.95,"y":-2.45},{"x":11.05,"y":-2.7},{"x":11.15,"y":-2.22},{"x":10.7,"y":-1.98},{"x":9.75,"y":-1.6},{"x":10.15,"y":-2.48},{"x":11.18,"y":-2.5},{"x":9.4,"y":-2.1},{"x":10.35,"y":-1.78},{"x":10.9,"y":-2.02},
  {"x":10.2,"y":-0.1},{"x":10.5,"y":-0.35},{"x":10.8,"y":-0.5},{"x":11.1,"y":-0.62},{"x":11.18,"y":-0.55},{"x":10.95,"y":-0.45},{"x":10.65,"y":-0.38},{"x":9.9,"y":0.15},{"x":9.7,"y":0.2},
  {"x":9.052,"y":-0.2},{"x":9.054,"y":0.1},{"x":9.057,"y":-0.4},{"x":9.06,"y":-0.68},{"x":9.062,"y":0.26},{"x":9.066,"y":-0.3},{"x":9.071,"y":-0.01},{"x":9.074,"y":-0.51},{"x":9.078,"y":0.19},{"x":9.083,"y":-0.25},
  {"x":9.087,"y":-0.74},{"x":9.092,"y":0.05},{"x":9.095,"y":-0.4},{"x":9.099,"y":0.12},{"x":9.104,"y":-0.56},{"x":9.108,"y":-0.1},{"x":9.114,"y":0.23},{"x":9.117,"y":-0.34},{"x":9.122,"y":-0.66},{"x":9.128,"y":0.06},
  {"x":9.133,"y":-0.2},{"x":9.138,"y":0.17},{"x":9.143,"y":-0.45},{"x":9.148,"y":-0.05},{"x":9.153,"y":-0.72},{"x":9.157,"y":0.13},{"x":9.162,"y":-0.29},{"x":9.167,"y":0.01},{"x":9.173,"y":-0.58},{"x":9.177,"y":0.2},
  {"x":9.183,"y":-0.17},{"x":9.188,"y":-0.44},{"x":9.193,"y":0.07},{"x":9.199,"y":-0.8},{"x":9.204,"y":-0.24},{"x":9.209,"y":0.1},{"x":9.214,"y":-0.5},{"x":9.219,"y":-0.09},{"x":9.226,"y":0.16},{"x":9.231,"y":-0.37},
  {"x":9.237,"y":-0.65},{"x":9.243,"y":-0.02},{"x":9.248,"y":-0.28},{"x":9.254,"y":0.11},{"x":9.258,"y":-0.47},{"x":9.263,"y":-0.12},{"x":9.268,"y":-0.77},{"x":9.274,"y":0.04},{"x":9.278,"y":-0.33},{"x":9.284,"y":-0.56},
  {"x":9.288,"y":0.14},{"x":9.293,"y":-0.19},{"x":9.298,"y":-0.42},{"x":9.304,"y":0.0},{"x":9.311,"y":-0.64},{"x":9.315,"y":-0.26},{"x":9.321,"y":0.09},{"x":9.328,"y":-0.48},{"x":9.333,"y":-0.14},{"x":9.338,"y":-0.7},
  {"x":9.343,"y":0.03},{"x":9.348,"y":-0.36},{"x":9.353,"y":-0.53},{"x":9.359,"y":-0.08},{"x":9.364,"y":0.12},{"x":9.37,"y":-0.45},{"x":9.376,"y":-0.22},{"x":9.381,"y":-0.79},{"x":9.387,"y":-0.03},{"x":9.393,"y":-0.34},
  {"x":9.397,"y":0.08},{"x":9.403,"y":-0.58},{"x":9.408,"y":-0.27},{"x":9.415,"y":-0.06},{"x":9.42,"y":-0.66},{"x":9.426,"y":-0.39},{"x":9.431,"y":0.02},{"x":9.437,"y":-0.21},{"x":9.443,"y":-0.54},{"x":9.448,"y":-0.85},
  {"x":9.453,"y":-0.15},{"x":9.459,"y":-0.4},{"x":9.465,"y":0.05},{"x":9.47,"y":-0.62},{"x":9.477,"y":-0.3},{"x":9.483,"y":-0.09},{"x":9.489,"y":-0.74},{"x":9.494,"y":-0.47},{"x":9.5,"y":-0.2},{"x":9.507,"y":0.0},
  {"x":9.513,"y":-0.55},{"x":9.519,"y":-0.32},{"x":9.524,"y":-0.83},{"x":9.53,"y":-0.14},{"x":9.537,"y":-0.42},{"x":9.543,"y":-0.65},{"x":9.549,"y":-0.07},{"x":9.555,"y":-0.37},{"x":9.561,"y":-0.58},{"x":9.567,"y":-0.22},
  {"x":9.573,"y":-0.9},{"x":9.58,"y":-0.45},{"x":9.586,"y":-0.05},{"x":9.592,"y":-0.31},{"x":9.598,"y":-0.69},{"x":9.605,"y":-0.48},{"x":9.611,"y":-0.18},{"x":9.617,"y":-0.8},{"x":9.623,"y":-0.36},{"x":9.63,"y":-0.6},
  {"x":9.637,"y":-0.12},{"x":9.643,"y":-0.41},{"x":9.649,"y":-0.74},{"x":9.656,"y":-0.27},{"x":9.662,"y":-0.52},{"x":9.669,"y":-0.95},{"x":9.675,"y":-0.19},{"x":9.681,"y":-0.44},{"x":9.688,"y":-0.66},{"x":9.694,"y":-0.3},
  {"x":9.701,"y":-0.83},{"x":9.707,"y":-0.53},{"x":9.714,"y":-0.15},{"x":9.72,"y":-0.39},{"x":9.727,"y":-0.71},{"x":9.733,"y":-0.47},{"x":9.74,"y":-0.24},{"x":9.746,"y":-0.88},{"x":9.753,"y":-0.6},{"x":9.76,"y":-0.34},
  {"x":9.767,"y":-0.1},{"x":9.773,"y":-0.51},{"x":9.78,"y":-0.77},{"x":9.787,"y":-0.28},{"x":9.793,"y":-0.63},{"x":9.8,"y":-0.43},{"x":9.808,"y":-0.96},{"x":9.815,"y":-0.2},{"x":9.822,"y":-0.57},{"x":9.829,"y":-0.73},
  {"x":9.836,"y":-0.38},{"x":9.843,"y":-0.12},{"x":9.85,"y":-0.67},{"x":9.857,"y":-0.49},{"x":9.864,"y":-0.87},{"x":9.872,"y":-0.26},{"x":9.879,"y":-0.55},{"x":9.886,"y":-0.78},{"x":9.894,"y":-0.4},{"x":9.901,"y":-0.62},
  {"x":9.909,"y":-1.0},{"x":9.917,"y":-0.33},{"x":9.925,"y":-0.58},{"x":9.932,"y":-0.82},{"x":9.94,"y":-0.47},{"x":9.948,"y":-0.2},{"x":9.956,"y":-0.7},{"x":9.964,"y":-0.93},{"x":9.972,"y":-0.41},{"x":9.98,"y":-0.6},
  {"x":9.988,"y":-0.85},{"x":9.996,"y":-0.3},{"x":10.005,"y":-0.54},{"x":10.013,"y":-0.76},{"x":10.022,"y":-1.06},{"x":10.03,"y":-0.45},{"x":10.039,"y":-0.64},{"x":10.048,"y":-0.88},{"x":10.057,"y":-0.35},{"x":10.066,"y":-0.57},
  {"x":10.075,"y":-0.8},{"x":10.085,"y":-1.1},{"x":10.094,"y":-0.5},{"x":10.104,"y":-0.72},{"x":10.114,"y":-0.93},{"x":10.124,"y":-0.4},{"x":10.134,"y":-0.62},{"x":10.145,"y":-0.86},{"x":10.156,"y":-1.14},{"x":10.167,"y":-0.55},
  {"x":10.178,"y":-0.75},{"x":10.19,"y":-0.98},{"x":10.202,"y":-0.64},{"x":10.214,"y":-0.85},{"x":10.227,"y":-1.18},{"x":10.24,"y":-0.58},{"x":10.254,"y":-0.78},{"x":10.268,"y":-1.01},{"x":10.283,"y":-0.69},{"x":10.298,"y":-0.9}
 ],
 "rb": [
  {"x":9.05,"y":-2.99},{"x":9.07,"y":-2.99},{"x":9.09,"y":-2.99},{"x":9.11,"y":-2.99},{"x":9.13,"y":-2.99},{"x":9.15,"y":-2.99},{"x":9.17,"y":-2.99},{"x":9.19,"y":-2.99},{"x":9.21,"y":-2.99},{"x":9.23,"y":-2.99},{"x":9.25,"y":-2.99},{"x":9.27,"y":-2.99},{"x":9.29,"y":-2.99},{"x":9.31,"y":-2.99},{"x":9.33,"y":-2.99},{"x":9.35,"y":-2.99},{"x":9.37,"y":-2.99},{"x":9.39,"y":-2.99},{"x":9.41,"y":-2.99},{"x":9.43,"y":-2.99},{"x":9.45,"y":-2.99},{"x":9.47,"y":-2.99},{"x":9.49,"y":-2.99},{"x":9.51,"y":-2.99},{"x":9.53,"y":-2.99},{"x":9.55,"y":-2.99},{"x":9.57,"y":-2.99},{"x":9.6,"y":-2.99},{"x":9.63,"y":-2.99},{"x":9.67,"y":-2.99},{"x":9.71,"y":-2.99},
  {"x":9.06,"y":-3.01},{"x":9.08,"y":-3.01},{"x":9.1,"y":-3.01},{"x":9.12,"y":-3.01},{"x":9.14,"y":-3.01},{"x":9.16,"y":-3.01},{"x":9.18,"y":-3.01},{"x":9.2,"y":-3.01},{"x":9.22,"y":-3.01},{"x":9.24,"y":-3.01},{"x":9.26,"y":-3.01},{"x":9.28,"y":-3.01},{"x":9.3,"y":-3.01},{"x":9.32,"y":-3.01},{"x":9.34,"y":-3.01},{"x":9.36,"y":-3.01},{"x":9.38,"y":-3.01},{"x":9.4,"y":-3.01},{"x":9.42,"y":-3.01},{"x":9.44,"y":-3.01},{"x":9.46,"y":-3.01},{"x":9.48,"y":-3.01},{"x":9.5,"y":-3.01},{"x":9.53,"y":-3.01},{"x":9.56,"y":-3.01},{"x":9.59,"y":-3.01},{"x":9.62,"y":-3.01},{"x":9.65,"y":-3.01},{"x":9.69,"y":-3.01},{"x":9.74,"y":-3.01},
  {"x":9.79,"y":-3.0},{"x":9.84,"y":-2.98},{"x":9.9,"y":-3.01},{"x":9.97,"y":-3.0},{"x":10.05,"y":-2.99},{"x":10.12,"y":-3.02},{"x":10.2,"y":-2.98},{"x":10.27,"y":-3.0},{"x":10.36,"y":-2.99},{"x":10.44,"y":-3.01},{"x":10.52,"y":-2.98},{"x":10.6,"y":-3.0},{"x":10.68,"y":-3.02},{"x":10.77,"y":-2.99},{"x":10.86,"y":-3.0},{"x":10.95,"y":-2.97}
 ],
 "med": [
  {"s":"g","x":8.085,"y":-0.10},{"s":"g","x":8.6,"y":-0.14},{"s":"g","x":9.0,"y":-0.2},{"s":"g","x":9.3,"y":-0.33},{"s":"g","x":9.6,"y":-0.47},{"s":"g","x":9.95,"y":-0.64},{"s":"g","x":10.2,"y":-0.79},{"s":"g","x":10.5,"y":-0.96},{"s":"g","x":10.8,"y":-1.12},{"s":"g","x":11.05,"y":-1.25},
  {"s":"r","x":8.99,"y":-0.26},{"s":"r","x":9.5,"y":-0.43},{"s":"r","x":9.95,"y":-0.63},{"s":"r","x":10.17,"y":-0.75},{"s":"r","x":10.46,"y":-0.91},{"s":"r","x":10.87,"y":-1.18},{"s":"r","x":11.07,"y":-1.27},{"s":"r","x":11.2,"y":-1.42}
 ],
 "dash2": [{"x":7.896,"y":0.835},{"x":9.05,"y":0.47},{"x":11.0,"y":-0.93}],
 "obs": [
  {"k":"sq","x":9.103,"y":0.08,"ylo":0.0,"yhi":0.16},
  {"k":"sq","x":9.591,"y":-0.25,"ylo":-0.33,"yhi":-0.17},
  {"k":"sq","x":10.155,"y":-0.81,"ylo":-0.89,"yhi":-0.73},
  {"k":"sq","x":10.653,"y":-1.02,"ylo":-1.14,"yhi":-0.90,"xlo":10.59,"xhi":10.71},
  {"k":"ci","x":10.163,"y":-0.59,"ylo":-0.66,"yhi":-0.52,"xlo":10.10,"xhi":10.23},
  {"k":"ci","x":10.459,"y":-0.865,"ylo":-0.93,"yhi":-0.80,"xlo":10.40,"xhi":10.52},
  {"k":"ci","x":10.77,"y":-1.11,"ylo":-1.18,"yhi":-1.04,"xlo":10.71,"xhi":10.83},
  {"k":"ci","x":11.06,"y":-1.43,"ylo":-1.50,"yhi":-1.36,"xlo":11.0,"xhi":11.12}
 ],
 "bleg": [
  {"s":"g","x":10.84,"y":0.762,"t":"r32n512vzw"},
  {"s":"r","x":10.84,"y":0.415,"t":"r48n384vzw"}
 ]
},
"vconcat": [
 {
  "width": 453.6, "height": 374.3,
  "resolve": {"axis": {"x": "independent", "y": "independent"}},
  "layer": [
   {"data": {"name": "vl"}, "mark": {"type": "rule", "strokeWidth": 1.5, "strokeDash": [2, 3]},
    "encoding": {"x": {"field": "x", "type": "quantitative", "axis": null},
     "color": {"field": "s", "type": "nominal", "scale": {"domain": ["g","r","m"], "range": ["#22e022","#ff0000","#ff00ff"]}, "legend": null}}},
   {"data": {"name": "alfa"}, "mark": {"type": "line", "color": "black", "strokeWidth": 2.5, "strokeDash": [12, 8], "clip": true},
    "encoding": {
     "x": {"field": "x", "type": "quantitative", "scale": {"domain": [7.914, 11.0], "nice": false, "zero": false},
       "axis": {"orient": "top", "values": [8,8.2,8.4,8.6,8.8,9,9.2,9.4,9.6,9.8,10,10.2,10.4,10.6,10.8,11], "labels": false, "title": null,
        "tickSize": {"condition": {"test": "abs(datum.value-round(datum.value))<0.01", "value": -15}, "value": -8}}},
     "y": {"field": "y", "type": "quantitative", "scale": {"domain": [-5.41, 0.40], "nice": false, "zero": false},
       "axis": {"orient": "right", "values": [0,-0.5,-1,-1.5,-2,-2.5,-3,-3.5,-4,-4.5,-5], "labels": false, "title": null,
        "tickSize": {"condition": {"test": "abs(datum.value/2-round(datum.value/2))<0.01", "value": -16}, "value": -8}}}}},
   {"data": {"name": "top"}, "mark": {"type": "line", "strokeWidth": 1.3, "clip": true},
    "encoding": {
     "x": {"field": "x", "type": "quantitative", "scale": {"domain": [7.914, 11.0], "nice": false, "zero": false},
       "axis": {"orient": "bottom", "values": [8,8.2,8.4,8.6,8.8,9,9.2,9.4,9.6,9.8,10,10.2,10.4,10.6,10.8,11],
        "tickSize": {"condition": {"test": "abs(datum.value-round(datum.value))<0.01", "value": -15}, "value": -8},
        "labelExpr": "abs(datum.value-round(datum.value))<0.01 ? datum.label : ''", "labelFontSize": 27, "labelPadding": 30,
        "title": "log  Mʜɪ  (M☉)", "titleFontSize": 34, "titlePadding": -1}},
     "y": {"field": "y", "type": "quantitative", "scale": {"domain": [-5.41, 0.40], "nice": false, "zero": false},
       "axis": {"orient": "left", "values": [0,-0.5,-1,-1.5,-2,-2.5,-3,-3.5,-4,-4.5,-5],
        "tickSize": {"condition": {"test": "abs(datum.value/2-round(datum.value/2))<0.01", "value": -16}, "value": -8},
        "labelExpr": "abs(datum.value/2-round(datum.value/2))<0.01 ? datum.label : ''", "labelFontSize": 27, "labelPadding": 29,
        "title": "Φ", "titleFontSize": 32, "titlePadding": 17}},
     "color": {"field": "s", "type": "nominal", "scale": {"domain": ["g","r","m"], "range": ["#22e022","#ff0000","#ff00ff"]}, "legend": null}}},
   {"data": {"name": "top"}, "transform": [{"filter": "isValid(datum.lo)"}], "mark": {"type": "rule", "strokeWidth": 1.3, "clip": true},
    "encoding": {"x": {"field": "x", "type": "quantitative", "axis": null}, "y": {"field": "lo", "type": "quantitative", "axis": null}, "y2": {"field": "hi"},
     "color": {"field": "s", "type": "nominal", "legend": null}}},
   {"data": {"name": "top"}, "transform": [{"filter": "isValid(datum.lo) && datum.lo > -5.4"}], "mark": {"type": "point", "shape": "M-1,0L1,0", "filled": false, "size": 121, "strokeWidth": 1.3, "opacity": 1},
    "encoding": {"x": {"field": "x", "type": "quantitative", "axis": null}, "y": {"field": "lo", "type": "quantitative", "axis": null},
     "color": {"field": "s", "type": "nominal", "legend": null}}},
   {"data": {"name": "top"}, "transform": [{"filter": "isValid(datum.hi)"}], "mark": {"type": "point", "shape": "M-1,0L1,0", "filled": false, "size": 121, "strokeWidth": 1.3, "opacity": 1},
    "encoding": {"x": {"field": "x", "type": "quantitative", "axis": null}, "y": {"field": "hi", "type": "quantitative", "axis": null},
     "color": {"field": "s", "type": "nominal", "legend": null}}},
   {"data": {"name": "tleg"}, "mark": {"type": "rule", "strokeWidth": 1.3},
    "encoding": {"x": {"field": "x", "type": "quantitative", "axis": null}, "x2": {"field": "x2"}, "y": {"field": "y", "type": "quantitative", "axis": null},
     "color": {"field": "s", "type": "nominal", "legend": null}}},
   {"data": {"name": "tleg"}, "mark": {"type": "text", "align": "right", "baseline": "alphabetic", "font": "DejaVu Serif", "fontSize": 29},
    "encoding": {"x": {"field": "tx", "type": "quantitative", "axis": null}, "y": {"field": "ty", "type": "quantitative", "axis": null}, "text": {"field": "t"},
     "color": {"field": "s", "type": "nominal", "legend": null}}},
   {"data": {"name": "aleg"}, "mark": {"type": "rule", "color": "black", "strokeWidth": 1.3, "strokeDash": [12, 8]},
    "encoding": {"x": {"field": "x", "type": "quantitative", "axis": null}, "x2": {"field": "x2"}, "y": {"field": "y", "type": "quantitative", "axis": null}}},
   {"data": {"name": "aleg"}, "mark": {"type": "text", "align": "left", "baseline": "middle", "font": "DejaVu Serif", "fontSize": 25, "color": "black"},
    "encoding": {"x": {"field": "tx", "type": "quantitative", "axis": null}, "y": {"field": "y", "type": "quantitative", "axis": null}, "text": {"field": "t"}}},
   {"data": {"name": "zlab"}, "mark": {"type": "text", "align": "left", "baseline": "alphabetic", "font": "DejaVu Serif", "fontSize": 34, "color": "black"},
    "encoding": {"x": {"field": "x", "type": "quantitative", "axis": null}, "y": {"field": "y", "type": "quantitative", "axis": null}, "text": {"field": "t"}}}
  ]
 },
 {
  "width": 453.6, "height": 375,
  "resolve": {"axis": {"x": "independent", "y": "independent"}},
  "layer": [
   {"data": {"name": "gs"}, "mark": {"type": "square", "size": 5, "color": "#22e022", "opacity": 1, "clip": true},
    "encoding": {"x": {"field": "x", "type": "quantitative", "axis": null}, "y": {"field": "y", "type": "quantitative", "axis": null}}},
   {"data": {"name": "gb"}, "mark": {"type": "square", "size": 7, "color": "#22e022", "opacity": 1},
    "encoding": {"x": {"field": "x", "type": "quantitative", "axis": null}, "y": {"field": "y", "type": "quantitative", "axis": null}}},
   {"data": {"name": "rs"}, "mark": {"type": "square", "size": 5, "color": "#ff1a1a", "opacity": 1, "clip": true},
    "encoding": {"x": {"field": "x", "type": "quantitative", "axis": null}, "y": {"field": "y", "type": "quantitative", "axis": null}}},
   {"data": {"name": "rb"}, "mark": {"type": "square", "size": 7, "color": "#ff1a1a", "opacity": 1},
    "encoding": {"x": {"field": "x", "type": "quantitative", "axis": null}, "y": {"field": "y", "type": "quantitative", "axis": null}}},
   {"data": {"name": "med"}, "mark": {"type": "line", "strokeWidth": 1.5, "clip": true},
    "encoding": {
     "x": {"field": "x", "type": "quantitative", "scale": {"domain": [7.896, 11.2], "nice": false, "zero": false},
       "axis": {"orient": "bottom", "values": [8,8.2,8.4,8.6,8.8,9,9.2,9.4,9.6,9.8,10,10.2,10.4,10.6,10.8,11],
        "tickSize": {"condition": {"test": "abs(datum.value-round(datum.value))<0.01", "value": -13}, "value": -8},
        "labelExpr": "abs(datum.value-round(datum.value))<0.01 ? datum.label : ''", "labelFontSize": 24, "labelPadding": 27,
        "title": "log  M⁎  (M☉)", "titleFontSize": 34, "titlePadding": 6}},
     "y": {"field": "y", "type": "quantitative", "scale": {"domain": [-3.2, 1.4], "nice": false, "zero": false},
       "axis": {"orient": "left", "values": [-3,-2.8,-2.6,-2.4,-2.2,-2,-1.8,-1.6,-1.4,-1.2,-1,-0.8,-0.6,-0.4,-0.2,0,0.2,0.4,0.6,0.8,1,1.2],
        "tickSize": {"condition": {"test": "abs(datum.value-round(datum.value))<0.01", "value": -13}, "value": -8},
        "labelExpr": "abs(datum.value-round(datum.value))<0.01 ? datum.label : ''", "labelFontSize": 24, "labelPadding": 24,
        "title": "log  Mʜɪ/M⁎", "titleFontSize": 34, "titlePadding": 19}},
     "color": {"field": "s", "type": "nominal", "scale": {"domain": ["g","r"], "range": ["#22e022","#ff0000"]}, "legend": null}}},
   {"data": {"name": "dash2"}, "mark": {"type": "line", "color": "black", "strokeWidth": 1.6, "strokeDash": [10, 8], "clip": true},
    "encoding": {
     "x": {"field": "x", "type": "quantitative", "scale": {"domain": [7.896, 11.2], "nice": false, "zero": false},
       "axis": {"orient": "top", "values": [8,8.2,8.4,8.6,8.8,9,9.2,9.4,9.6,9.8,10,10.2,10.4,10.6,10.8,11], "labels": false, "title": null,
        "tickSize": {"condition": {"test": "abs(datum.value-round(datum.value))<0.01", "value": -13}, "value": -8}}},
     "y": {"field": "y", "type": "quantitative", "scale": {"domain": [-3.2, 1.4], "nice": false, "zero": false},
       "axis": {"orient": "right", "values": [-3,-2.8,-2.6,-2.4,-2.2,-2,-1.8,-1.6,-1.4,-1.2,-1,-0.8,-0.6,-0.4,-0.2,0,0.2,0.4,0.6,0.8,1,1.2], "labels": false, "title": null,
        "tickSize": {"condition": {"test": "abs(datum.value-round(datum.value))<0.01", "value": -13}, "value": -8}}}}},
   {"data": {"name": "obs"}, "mark": {"type": "rule", "color": "black", "strokeWidth": 1.3},
    "encoding": {"x": {"field": "x", "type": "quantitative", "axis": null}, "y": {"field": "ylo", "type": "quantitative", "axis": null}, "y2": {"field": "yhi"}}},
   {"data": {"name": "obs"}, "transform": [{"filter": "isValid(datum.xlo)"}], "mark": {"type": "rule", "color": "black", "strokeWidth": 1.3},
    "encoding": {"x": {"field": "xlo", "type": "quantitative", "axis": null}, "x2": {"field": "xhi"}, "y": {"field": "y", "type": "quantitative", "axis": null}}},
   {"data": {"name": "obs"}, "transform": [{"filter": "datum.k == 'sq'"}], "mark": {"type": "point", "shape": "M-1,0L1,0", "filled": false, "size": 169, "strokeWidth": 1.8, "color": "black", "opacity": 1},
    "encoding": {"x": {"field": "x", "type": "quantitative", "axis": null}, "y": {"field": "ylo", "type": "quantitative", "axis": null}}},
   {"data": {"name": "obs"}, "transform": [{"filter": "datum.k == 'sq'"}], "mark": {"type": "point", "shape": "M-1,0L1,0", "filled": false, "size": 169, "strokeWidth": 1.8, "color": "black", "opacity": 1},
    "encoding": {"x": {"field": "x", "type": "quantitative", "axis": null}, "y": {"field": "yhi", "type": "quantitative", "axis": null}}},
   {"data": {"name": "obs"}, "transform": [{"filter": "datum.k == 'sq'"}], "mark": {"type": "point", "shape": "square", "filled": false, "size": 144, "strokeWidth": 1.3, "color": "black", "opacity": 1},
    "encoding": {"x": {"field": "x", "type": "quantitative", "axis": null}, "y": {"field": "y", "type": "quantitative", "axis": null}}},
   {"data": {"name": "obs"}, "transform": [{"filter": "datum.k == 'ci'"}], "mark": {"type": "point", "shape": "circle", "filled": false, "size": 254, "strokeWidth": 1.3, "color": "black", "opacity": 1},
    "encoding": {"x": {"field": "x", "type": "quantitative", "axis": null}, "y": {"field": "y", "type": "quantitative", "axis": null}}},
   {"data": {"name": "bleg"}, "mark": {"type": "text", "align": "right", "baseline": "alphabetic", "font": "DejaVu Serif", "fontSize": 36},
    "encoding": {"x": {"field": "x", "type": "quantitative", "axis": null}, "y": {"field": "y", "type": "quantitative", "axis": null}, "text": {"field": "t"},
     "color": {"field": "s", "type": "nominal", "legend": null}}}
  ]
 }
]
}
